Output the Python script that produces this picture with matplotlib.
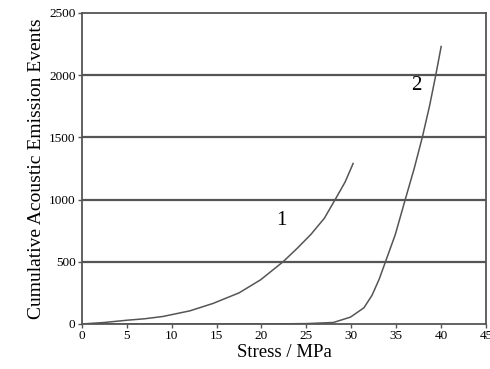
import matplotlib.pyplot as plt

# curve 1
stress_1 = [0, 2.5, 5, 7, 9, 12, 14.6, 17.5, 19.9, 22.4, 24, 25.5, 27, 28.2, 29.3, 30.2]
events_1 = [0, 12, 30, 42, 60, 105, 165, 250, 355, 500, 610, 720, 850, 1000, 1140, 1290]

# curve 2
stress_2 = [0, 10, 20, 25, 28, 29.9, 31.4, 32.3, 33.1, 33.8, 34.9, 36, 37, 37.9, 38.7, 39.4, 40]
events_2 = [0, 0, 0, 3, 12, 55, 130, 230, 360, 500, 720, 1000, 1250, 1500, 1750, 2000, 2230]

x_ticks = [0, 5, 10, 15, 20, 25, 30, 35, 40, 45]
y_ticks = [0, 500, 1000, 1500, 2000, 2500]

plt.rcParams['font.family'] = ['Liberation Serif', 'DejaVu Serif']

fig = plt.figure(figsize=(4.9, 3.69), dpi=100)
ax = fig.add_axes([0.167, 0.122, 0.825, 0.843])

for y in y_ticks[1:-1]:
    ax.axhline(y, color='#555555', linewidth=1.6, zorder=1)

ax.plot(stress_1, events_1, color='#555555', linewidth=1.1, zorder=2)
ax.plot(stress_2, events_2, color='#555555', linewidth=1.1, zorder=2)

ax.text(22.2, 830, '1', fontsize=15, ha='center', va='center')
ax.text(37.2, 1920, '2', fontsize=15, ha='center', va='center')

ax.set_xlim(0, 45)
ax.set_ylim(0, 2500)
ax.set_xticks(x_ticks)
ax.set_yticks(y_ticks)
ax.tick_params(labelsize=9.5, length=3, width=1, color='#555555', pad=1.5)
for s in ax.spines.values():
    s.set_color('#555555')
    s.set_linewidth(1.3)

ax.set_xlabel('Stress / MPa', fontsize=13.5, labelpad=1)
ax.set_ylabel('Cumulative Acoustic Emission Events', fontsize=14, labelpad=3)

fig.savefig('out.png', dpi=100)
